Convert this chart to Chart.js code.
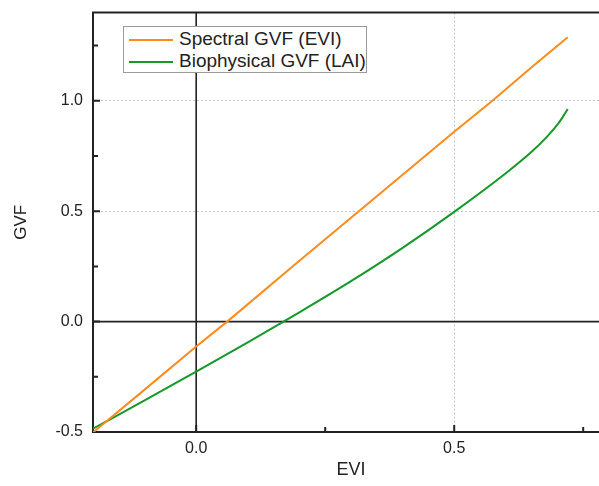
<!DOCTYPE html>
<html>
<head>
<meta charset="utf-8">
<script src="https://cdn.jsdelivr.net/npm/chart.js@4/dist/chart.umd.min.js"></script>
<style>
    html, body { margin: 0; padding: 0; background: #fff; overflow: hidden; }
    #wrap { position: relative; width: 612px; height: 486px; }
    .legend {
        position: absolute; left: 123px; top: 26px; width: 244px; height: 47px;
        border: 1px solid #9a9a9a; background: #fff; box-sizing: border-box;
        font-family: "Liberation Sans", Arial, sans-serif; font-size: 19px; color: #222;
    }
    .legend .row { position: absolute; left: 5px; height: 22px; line-height: 22px; white-space: nowrap; }
    .legend .swatch { display: inline-block; width: 44px; height: 2px; vertical-align: middle; margin-right: 6px; }
</style>
</head>
<body>
<div id="wrap">
    <canvas id="chart" width="612" height="486"></canvas>
    <div class="legend">
        <div class="row" style="top:1px"><span class="swatch" style="background:#ff8b1f"></span>Spectral GVF (EVI)</div>
        <div class="row" style="top:23px"><span class="swatch" style="background:#14992a"></span>Biophysical GVF (LAI)</div>
    </div>
</div>
<script>
// ===== data =====
const spectralEvi = [-0.2, -0.1, 0, 0.06, 0.2, 0.35, 0.5, 0.574, 0.65, 0.72];
const spectralGvf = [-0.502, -0.308, -0.113, 0, 0.276, 0.568, 0.86, 1.0, 1.152, 1.288];

const bioEvi = [-0.2, -0.1, 0, 0.1, 0.2, 0.3, 0.4, 0.5, 0.6, 0.65, 0.68, 0.7, 0.71, 0.72];
const bioGvf = [-0.485, -0.357, -0.226, -0.094, 0.042, 0.183, 0.334, 0.497, 0.672, 0.769, 0.838, 0.892, 0.925, 0.963];

const xTicks = [0, 0.25, 0.5, 0.75];
const yTicks = [-0.5, -0.25, 0, 0.25, 0.5, 0.75, 1.0, 1.25];
const majorX = [0, 0.5];
const majorY = [-0.5, 0, 0.5, 1.0];

const toPoints = (xs, ys) => xs.map((x, i) => ({ x, y: ys[i] }));
const isMajor = (list, v) => list.some(m => Math.abs(m - v) < 1e-9);

// frame, zero lines and inward tick marks
const framePlugin = {
    id: 'frame',
    beforeDatasetsDraw(chart) {
        const { ctx, chartArea: a, scales: { x, y } } = chart;
        ctx.save();
        ctx.strokeStyle = '#222';
        ctx.lineWidth = 1.6;
        const x0 = x.getPixelForValue(0), y0 = y.getPixelForValue(0);
        ctx.beginPath();
        ctx.moveTo(x0, a.top); ctx.lineTo(x0, a.bottom);
        ctx.moveTo(a.left, y0); ctx.lineTo(a.right, y0);
        ctx.stroke();

        ctx.lineWidth = 2;
        ctx.beginPath();
        ctx.moveTo(a.right, a.top); ctx.lineTo(a.left, a.top);
        ctx.lineTo(a.left, a.bottom); ctx.lineTo(a.right, a.bottom);
        yTicks.forEach(v => {
            const p = y.getPixelForValue(v);
            ctx.moveTo(a.left, p); ctx.lineTo(a.left + (isMajor(majorY, v) ? 7 : 5), p);
        });
        xTicks.forEach(v => {
            const p = x.getPixelForValue(v);
            ctx.moveTo(p, a.bottom); ctx.lineTo(p, a.bottom - (isMajor(majorX, v) ? 7 : 5));
        });
        ctx.stroke();
        ctx.restore();
    }
};

const gridColor = list => c => (c.tick && isMajor(list, c.tick.value) && c.tick.value !== 0 && c.tick.value !== -0.5) ? '#c8c8c8' : 'rgba(0,0,0,0)';

new Chart(document.getElementById('chart'), {
    type: 'line',
    data: {
        datasets: [
            {
                label: 'Spectral GVF (EVI)',
                data: toPoints(spectralEvi, spectralGvf),
                borderColor: '#ff8b1f',
                borderWidth: 2,
                pointRadius: 0,
                tension: 0
            },
            {
                label: 'Biophysical GVF (LAI)',
                data: toPoints(bioEvi, bioGvf),
                borderColor: '#14992a',
                borderWidth: 2,
                pointRadius: 0,
                cubicInterpolationMode: 'monotone'
            }
        ]
    },
    options: {
        responsive: false,
        animation: false,
        layout: { padding: { top: 12.5, right: 3, left: 0, bottom: 0 } },
        plugins: { legend: { display: false }, tooltip: { enabled: false } },
        scales: {
            x: {
                type: 'linear',
                min: -0.2,
                max: 0.8,
                afterBuildTicks: s => { s.ticks = xTicks.map(v => ({ value: v })); },
                afterFit: s => { s.height = 54; s.paddingLeft = 0; s.paddingRight = 0; },
                ticks: {
                    color: '#222',
                    padding: 7,
                    maxRotation: 0,
                    autoSkip: false,
                    font: { family: 'Liberation Sans', size: 16 },
                    callback: v => isMajor(majorX, v) ? v.toFixed(1) : ''
                },
                grid: { color: gridColor(majorX), drawTicks: false, lineWidth: 1 },
                border: { display: false, dash: [2, 2] },
                title: {
                    display: true, text: 'EVI', color: '#222', padding: 5,
                    font: { family: 'Liberation Sans', size: 18 }
                }
            },
            y: {
                type: 'linear',
                min: -0.5,
                max: 1.4,
                afterBuildTicks: s => { s.ticks = yTicks.map(v => ({ value: v })); },
                afterFit: s => { s.width = 93; s.paddingTop = 0; s.paddingBottom = 0; },
                ticks: {
                    color: '#222',
                    padding: 10,
                    autoSkip: false,
                    font: { family: 'Liberation Sans', size: 16 },
                    callback: v => isMajor(majorY, v) ? v.toFixed(1) : ''
                },
                grid: { color: gridColor(majorY), drawTicks: false, lineWidth: 1 },
                border: { display: false, dash: [2, 2] },
                title: {
                    display: true, text: 'GVF', color: '#222', padding: 11,
                    font: { family: 'Liberation Sans', size: 17 }
                }
            }
        }
    },
    plugins: [framePlugin]
});
</script>
</body>
</html>
